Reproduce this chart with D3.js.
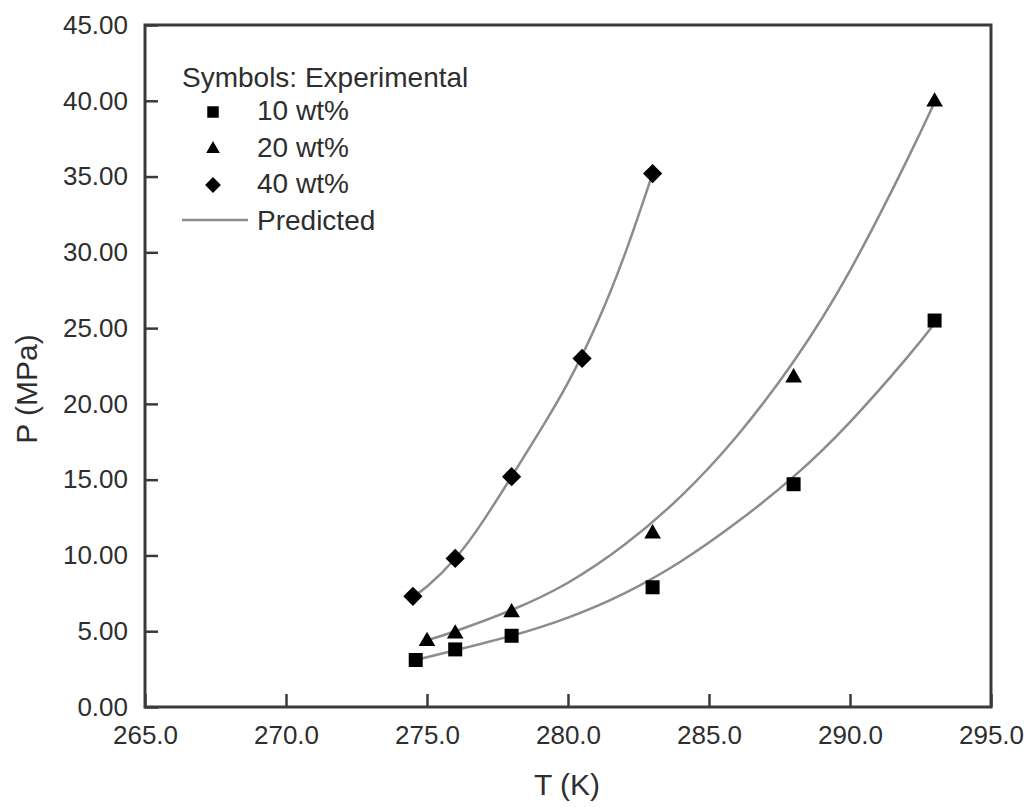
<!DOCTYPE html>
<html>
<head>
<meta charset="utf-8">
<script src="https://cdn.jsdelivr.net/npm/d3@7"></script>
<style>
  html, body { margin: 0; padding: 0; background: #fff; }
  svg { display: block; font-family: "Liberation Sans", Arial, sans-serif; }
  .tick text { fill: #2e2e2e; font-size: 26px; }
  .tick line { stroke: #3a3a3a; stroke-width: 2.5; }
</style>
</head>
<body>
<svg id="chart" width="1030" height="807"></svg>
<script>
// Experimental hydrate dissociation points, T in K, P in MPa
const expT10 = [274.6, 276.0, 278.0, 283.0, 288.0, 293.0];
const expP10 = [3.1, 3.8, 4.7, 7.9, 14.7, 25.5];
const expT20 = [275.0, 276.0, 278.0, 283.0, 288.0, 293.0];
const expP20 = [4.4, 4.9, 6.3, 11.5, 21.8, 40.0];
const expT40 = [274.5, 276.0, 278.0, 280.5, 283.0];
const expP40 = [7.3, 9.8, 15.2, 23.0, 35.2];

// Model predictions
const predT10 = [274.6, 276, 278, 280, 282, 284, 286, 288, 290, 292, 293];
const predP10 = [3.1, 3.75, 4.7, 5.9, 7.5, 9.6, 12.2, 15.2, 18.8, 23.0, 25.3];
const predT20 = [275, 276, 278, 280, 282, 284, 286, 288, 290, 292, 293];
const predP20 = [4.4, 5.0, 6.4, 8.2, 10.7, 13.9, 17.9, 22.8, 28.8, 36.0, 39.9];
const predT40 = [274.5, 275, 276, 277, 278, 279, 280, 281, 282, 283];
const predP40 = [7.3, 7.95, 9.8, 12.3, 15.2, 18.2, 21.4, 25.2, 29.8, 35.2];

const xTicks = [265, 270, 275, 280, 285, 290, 295];
const yTicks = [0, 5, 10, 15, 20, 25, 30, 35, 40, 45];

const seriesNames = ["10 wt%", "20 wt%", "40 wt%"];
const legendTitle = "Symbols: Experimental";
const legendLine = "Predicted";

const svg = d3.select("#chart");
const x = d3.scaleLinear().domain([265, 295]).range([145, 991]);
const y = d3.scaleLinear().domain([0, 45]).range([707, 25]);

const frameColor = "#3a3a3a";
const lineColor = "#8c8c8c";
const textColor = "#2e2e2e";

// Axes with inward ticks
const gx = svg.append("g").attr("transform", `translate(0,${y(0)})`)
  .call(d3.axisBottom(x).tickValues(xTicks).tickFormat(d3.format(".1f"))
    .tickSizeInner(-13).tickSizeOuter(0).tickPadding(19));
const gy = svg.append("g").attr("transform", `translate(${x(265)},0)`)
  .call(d3.axisLeft(y).tickValues(yTicks).tickFormat(d3.format(".2f"))
    .tickSizeInner(-13).tickSizeOuter(0).tickPadding(17));
gx.select(".domain").remove();
gy.select(".domain").remove();
gx.attr("font-family", null).attr("font-size", null);
gy.attr("font-family", null).attr("font-size", null);

// Frame
svg.append("rect")
  .attr("x", x(265)).attr("y", y(45))
  .attr("width", x(295) - x(265)).attr("height", y(0) - y(45))
  .attr("fill", "none").attr("stroke", frameColor).attr("stroke-width", 3);

// Axis titles
svg.append("text").attr("x", 567).attr("y", 795)
  .attr("text-anchor", "middle").attr("font-size", 30).attr("fill", textColor)
  .text("T (K)");
svg.append("text").attr("transform", "translate(37,389) rotate(-90)")
  .attr("text-anchor", "middle").attr("font-size", 30).attr("fill", textColor)
  .text("P (MPa)");

// Predicted curves
const line = d3.line().x(d => x(d[0])).y(d => y(d[1])).curve(d3.curveNatural);
[[predT10, predP10], [predT20, predP20], [predT40, predP40]].forEach(([ts, ps]) => {
  svg.append("path")
    .attr("d", line(ts.map((t, i) => [t, ps[i]])))
    .attr("fill", "none").attr("stroke", lineColor).attr("stroke-width", 2.5);
});

// Marker shapes: square, triangle, diamond (square turned 45 degrees)
function marker(sel, kind, scale) {
  if (kind === 0) {
    sel.attr("d", d3.symbol().type(d3.symbolSquare).size(196 * scale * scale)());
  } else if (kind === 1) {
    sel.attr("d", d3.symbol().type(d3.symbolTriangle).size(120 * scale * scale)());
  } else {
    sel.attr("d", d3.symbol().type(d3.symbolSquare).size(185 * scale * scale)());
  }
  return sel;
}

const expSets = [[expT10, expP10], [expT20, expP20], [expT40, expP40]];
expSets.forEach(([ts, ps], k) => {
  ts.forEach((t, i) => {
    const p = svg.append("path").attr("fill", "#000");
    marker(p, k, 1);
    const rot = k === 2 ? " rotate(45)" : "";
    const dy = k === 1 ? 1 : 0;
    p.attr("transform", `translate(${x(t)},${y(ps[i]) + dy})${rot}`);
  });
});

// Legend
const lg = svg.append("g").attr("font-size", 28).attr("fill", textColor);
lg.append("text").attr("x", 182).attr("y", 87).text(legendTitle);
const rowY = [120, 157, 193];
seriesNames.forEach((name, k) => {
  const p = lg.append("path").attr("fill", "#000");
  marker(p, k, 0.82);
  const rot = k === 2 ? " rotate(45)" : "";
  p.attr("transform", `translate(213,${rowY[k] - 8})${rot}`);
  lg.append("text").attr("x", 257).attr("y", rowY[k]).text(name);
});
lg.append("line").attr("x1", 182).attr("x2", 248).attr("y1", 220).attr("y2", 220)
  .attr("stroke", lineColor).attr("stroke-width", 2.5);
lg.append("text").attr("x", 257).attr("y", 230).text(legendLine);
</script>
</body>
</html>
